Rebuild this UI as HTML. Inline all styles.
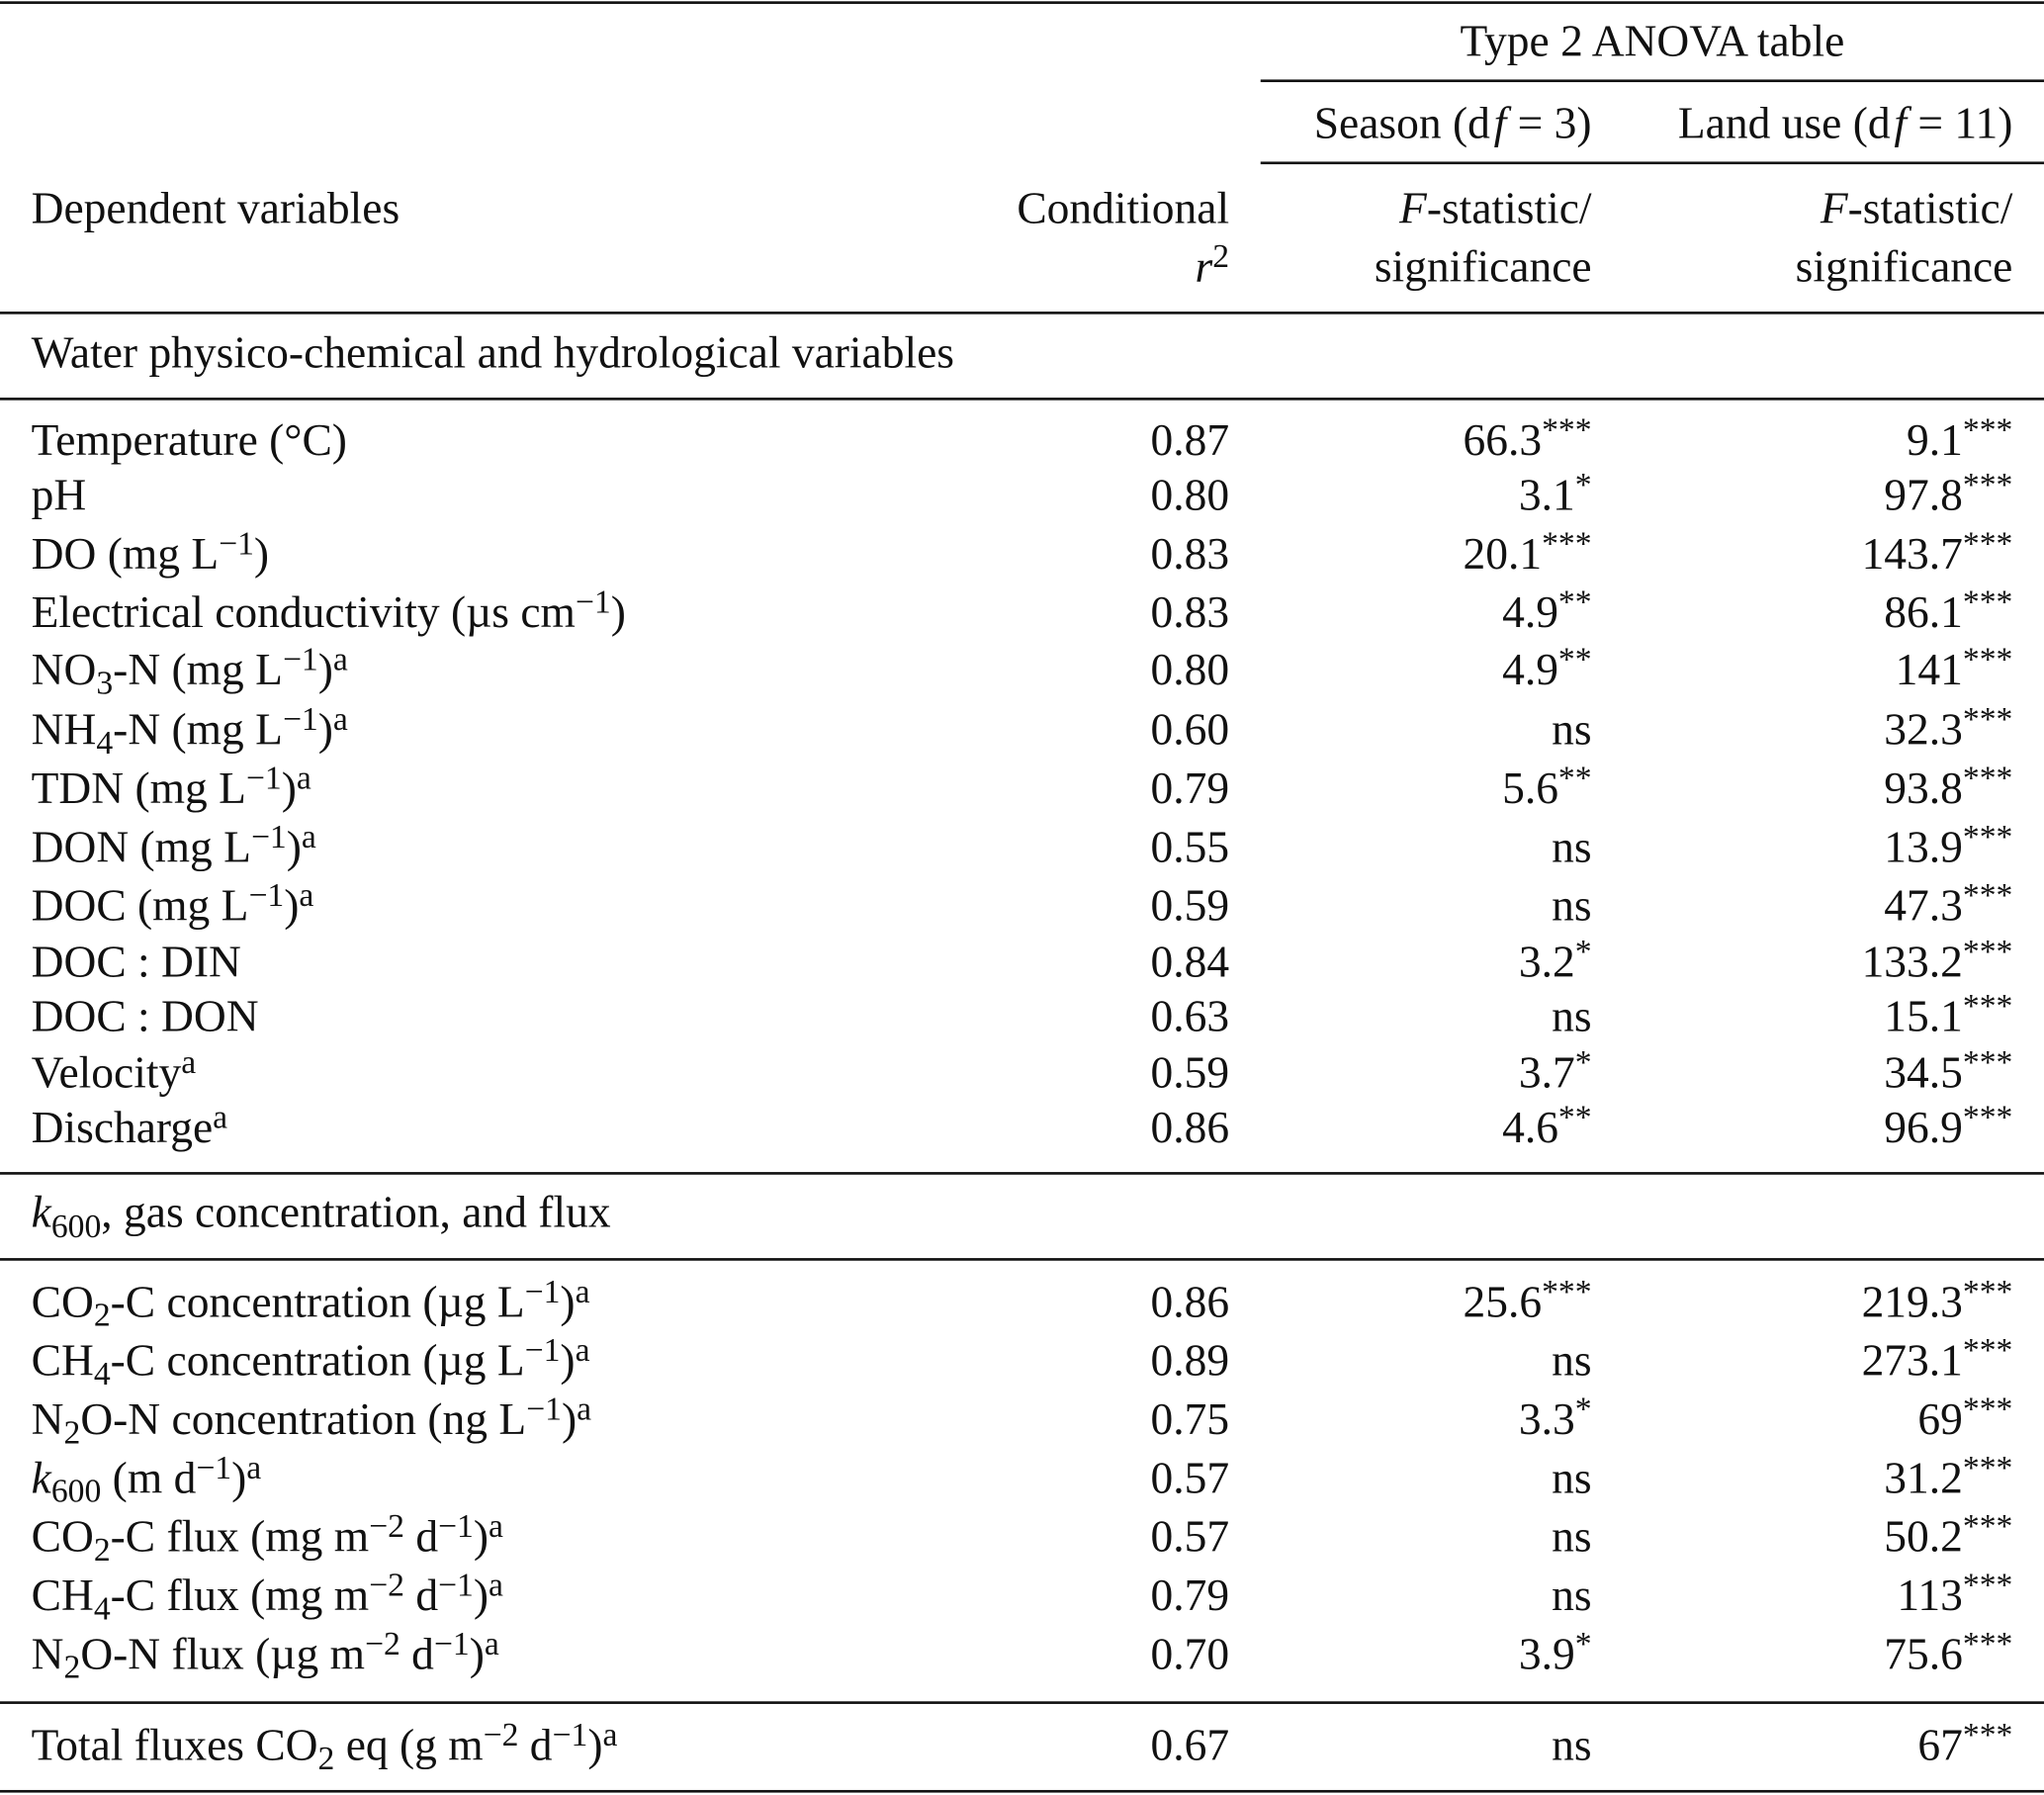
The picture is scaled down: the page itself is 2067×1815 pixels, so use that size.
<!DOCTYPE html>
<html><head><meta charset="utf-8">
<style>
html,body{margin:0;padding:0;background:#fff;}
body{width:2067px;height:1814px;overflow:hidden;}
#wrap{position:absolute;left:0;top:0;width:1568px;height:1377px;transform:scale(1.31824);transform-origin:0 0;font-family:"Liberation Serif",serif;font-size:34.5px;color:#111;}
.t{position:absolute;white-space:nowrap;line-height:34px;height:34px;}
.r{text-align:right;}
.rule{position:absolute;height:2px;background:#111;}
sup{font-size:0.74em;vertical-align:0;position:relative;top:-0.42em;line-height:0;}
sub{font-size:0.74em;vertical-align:0;position:relative;top:0.3em;line-height:0;}
i{font-style:italic;}
</style></head><body>
<div id="wrap">
<div class="rule" style="left:0;width:1568px;top:1px;"></div>
<div class="t" style="left:967px;width:601px;text-align:center;top:15px;">Type 2 ANOVA table</div>
<div class="rule" style="left:967px;width:601px;top:61px;"></div>
<div class="t r" style="right:347px;top:78px;">Season (d<i>&#8202;f</i> = 3)</div>
<div class="t r" style="right:24px;top:78px;">Land use (d<i>&#8202;f</i> = 11)</div>
<div class="rule" style="left:967px;width:601px;top:124px;"></div>
<div class="t" style="left:24px;top:143px;">Dependent variables</div>
<div class="t r" style="right:625px;top:143px;">Conditional</div>
<div class="t r" style="right:625px;top:188px;"><i>r</i><sup>2</sup></div>
<div class="t r" style="right:347px;top:143px;"><i>F</i>-statistic/</div>
<div class="t r" style="right:347px;top:188px;">significance</div>
<div class="t r" style="right:24px;top:143px;"><i>F</i>-statistic/</div>
<div class="t r" style="right:24px;top:188px;">significance</div>
<div class="rule" style="left:0;width:1568px;top:239px;"></div>
<div class="t" style="left:24px;top:254px;">Water physico-chemical and hydrological variables</div>
<div class="rule" style="left:0;width:1568px;top:305px;"></div>
<div class="rule" style="left:0;width:1568px;top:899px;"></div>
<div class="t" style="left:24px;top:913px;"><i>k</i><sub>600</sub>, gas concentration, and flux</div>
<div class="rule" style="left:0;width:1568px;top:965px;"></div>
<div class="rule" style="left:0;width:1568px;top:1305px;"></div>
<div class="rule" style="left:0;width:1568px;top:1373px;"></div>
</div>
<script>
const variables=["Temperature (°C)","pH","DO (mg L<sup>−1</sup>)","Electrical conductivity (µs cm<sup>−1</sup>)","NO<sub>3</sub>-N (mg L<sup>−1</sup>)<sup>a</sup>","NH<sub>4</sub>-N (mg L<sup>−1</sup>)<sup>a</sup>","TDN (mg L<sup>−1</sup>)<sup>a</sup>","DON (mg L<sup>−1</sup>)<sup>a</sup>","DOC (mg L<sup>−1</sup>)<sup>a</sup>","DOC : DIN","DOC : DON","Velocity<sup>a</sup>","Discharge<sup>a</sup>","CO<sub>2</sub>-C concentration (µg L<sup>−1</sup>)<sup>a</sup>","CH<sub>4</sub>-C concentration (µg L<sup>−1</sup>)<sup>a</sup>","N<sub>2</sub>O-N concentration (ng L<sup>−1</sup>)<sup>a</sup>","<i>k</i><sub>600</sub> (m d<sup>−1</sup>)<sup>a</sup>","CO<sub>2</sub>-C flux (mg m<sup>−2</sup> d<sup>−1</sup>)<sup>a</sup>","CH<sub>4</sub>-C flux (mg m<sup>−2</sup> d<sup>−1</sup>)<sup>a</sup>","N<sub>2</sub>O-N flux (µg m<sup>−2</sup> d<sup>−1</sup>)<sup>a</sup>","Total fluxes CO<sub>2</sub> eq (g m<sup>−2</sup> d<sup>−1</sup>)<sup>a</sup>"];
const r2=["0.87","0.80","0.83","0.83","0.80","0.60","0.79","0.55","0.59","0.84","0.63","0.59","0.86","0.86","0.89","0.75","0.57","0.57","0.79","0.70","0.67"];
const seasonF=["66.3***","3.1*","20.1***","4.9**","4.9**","ns","5.6**","ns","ns","3.2*","ns","3.7*","4.6**","25.6***","ns","3.3*","ns","ns","ns","3.9*","ns"];
const landF=["9.1***","97.8***","143.7***","86.1***","141***","32.3***","93.8***","13.9***","47.3***","133.2***","15.1***","34.5***","96.9***","219.3***","273.1***","69***","31.2***","50.2***","113***","75.6***","67***"];
const baselines=[347,389,434,479,523,569,614,659,704,747,789,832,874,1008,1053,1098,1143,1188,1233,1278,1348];
function fmt(v){const m=v.match(/^([^*]*)(\**)$/);return m[1]+(m[2]?'<sup>'+m[2]+'</sup>':'');}
const wrap=document.getElementById('wrap');
function cell(html,style,cls,name){const d=document.createElement('div');d.className='t '+cls;d.innerHTML=html;d.setAttribute('style',style);


wrap.appendChild(d);}
variables.forEach((v,i)=>{const top=baselines[i]-26.5;
cell(v,'left:24px;top:'+top+'px;','', 'variable-label-'+(i+1));
cell(r2[i],'right:625px;top:'+top+'px;','r','r2-value-'+(i+1));
cell(fmt(seasonF[i]),'right:347px;top:'+top+'px;','r','season-f-value-'+(i+1));
cell(fmt(landF[i]),'right:24px;top:'+top+'px;','r','landuse-f-value-'+(i+1));
});
</script>
</body></html>
